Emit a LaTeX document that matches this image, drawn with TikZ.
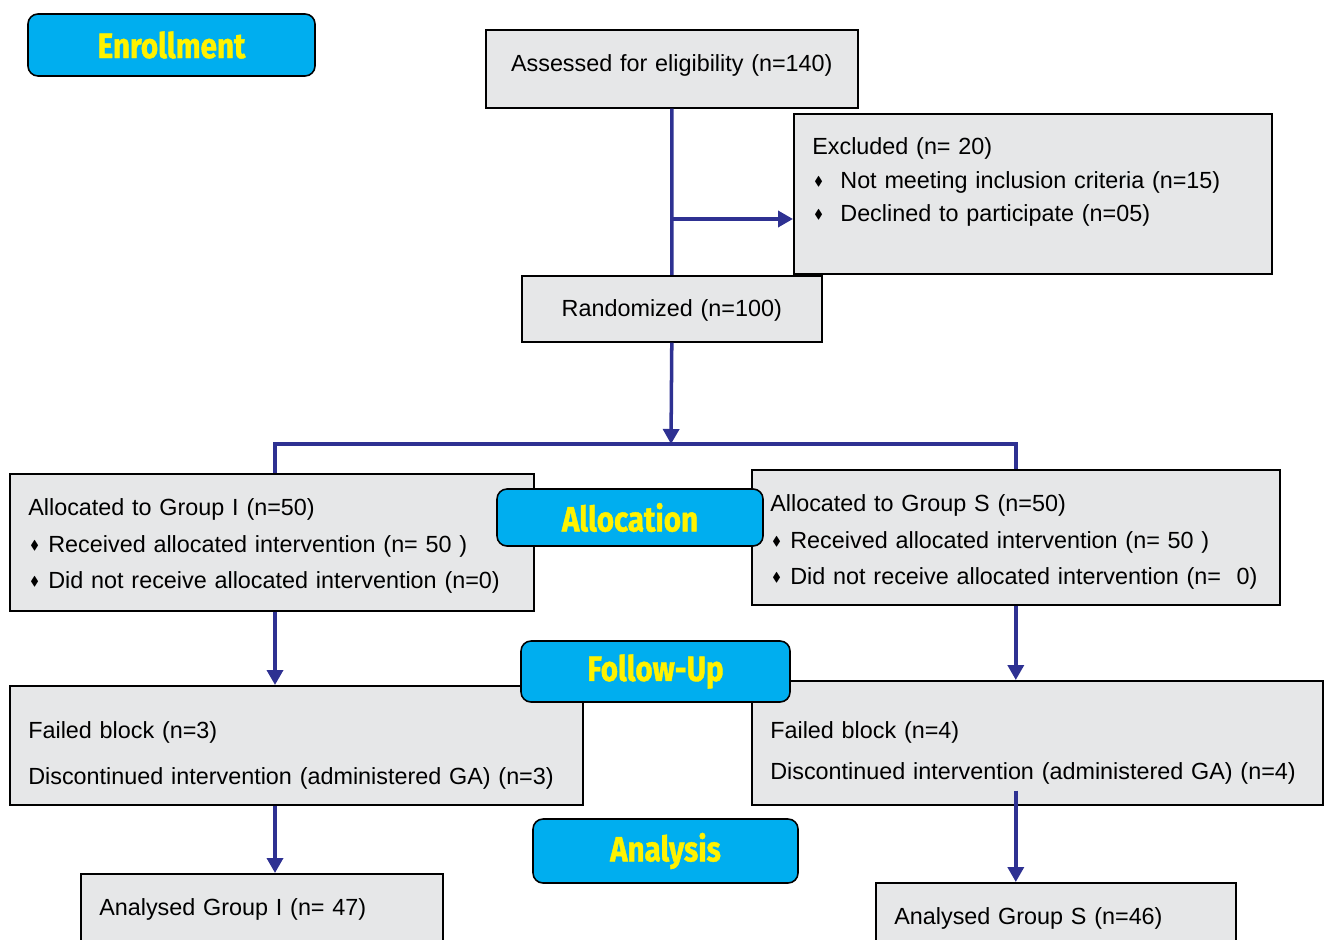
\documentclass[tikz,border=0pt]{standalone}
\usepackage{amsmath,amssymb,graphicx}
\usepackage{fontspec}
\setmainfont{Liberation Sans}
\newfontfamily\phasefont[FakeStretch=0.84,FakeBold=1.2]{Fira Sans}
\usepackage{tikz}
\usetikzlibrary{calc,arrows.meta,positioning}
\definecolor{boxgray}{RGB}{230, 231, 232}
\definecolor{phaseblue}{RGB}{0, 174, 239}
\definecolor{phaseyellow}{RGB}{255, 242, 0}
\definecolor{connblue}{RGB}{46, 49, 146}
\newcommand{\bul}[1][0.19cm]{\hspace*{0.04cm}\raisebox{0.06cm}{\scalebox{0.55}{$\blacklozenge$}}\hspace*{#1}}
\tikzset{>={Triangle[length=0.3cm,width=0.32cm]},
  box/.style={draw=black, line width=0.9pt, fill=boxgray, anchor=north west, inner xsep=0.37cm, inner ysep=0pt, align=left, font=\fontsize{13.3}{19}\selectfont},
  phase/.style={draw=black, line width=0.9pt, fill=phaseblue, rounded corners=0.2cm, text=phaseyellow, inner sep=0pt, font=\phasefont\bfseries\fontsize{20}{24}\selectfont},
  conn/.style={draw=connblue, line width=2pt}}

\begin{document}
\begin{tikzpicture}
\useasboundingbox (0,0) rectangle (26.48,-18.8);
\clip (0,0) rectangle (26.48,-18.8);
% boxes
\node[box, align=center, text width=6.70cm, text height=0.84cm, text depth=0.72cm] (assess) at (9.70,-0.58) {Assessed for eligibility (n=140)};
\node[box, text width=8.82cm, text height=0.82cm, text depth=2.38cm] (excl) at (15.86,-2.26) {Excluded (n= 20)\\ \bul[0.35cm]Not meeting inclusion criteria (n=15)\\ \bul[0.35cm]Declined to participate (n=05)};
\node[box, align=center, text width=5.26cm, text height=0.82cm, text depth=0.50cm] (rand) at (10.42,-5.50) {Randomized (n=100)};
\node[box, text width=9.74cm, text height=0.84cm, text depth=1.90cm] (grpI) at (0.18,-9.46) {Allocated to Group I (n=50)\\[1.8pt] \bul Received allocated intervention (n= 50 )\\[1.8pt] \bul Did not receive allocated intervention (n=0)};
\node[box, text width=9.82cm, text height=0.84cm, text depth=1.86cm] (grpS) at (15.02,-9.38) {Allocated to Group S (n=50)\\[1.8pt] \bul Received allocated intervention (n= 50 )\\[1.8pt] \bul Did not receive allocated intervention (n=\ \ 0)};
\node[box, text width=10.72cm, text height=1.06cm, text depth=1.32cm] (failI) at (0.18,-13.70) {Failed block (n=3)\\[7pt] Discontinued intervention (administered GA) (n=3)};
\node[box, text width=10.68cm, text height=1.16cm, text depth=1.32cm] (failS) at (15.02,-13.60) {Failed block (n=4)\\[4.2pt] Discontinued intervention (administered GA) (n=4)};
\node[box, text width=6.50cm, text height=0.84cm, text depth=0.52cm] (anI) at (1.60,-17.46) {Analysed Group I (n= 47)};
\node[box, text width=6.46cm, text height=0.84cm, text depth=0.52cm] (anS) at (17.50,-17.64) {Analysed Group S (n=46)};
% connectors
\coordinate (split) at (13.42,-4.38);
\coordinate (fork) at (13.42,-8.88);
\coordinate (colI) at (5.50,0);
\draw[conn] (assess.south) -- (rand.north);
\draw[conn,->] (split) -- (split -| excl.west);
\draw[conn,->] (rand.south) -- (fork);
\draw[conn] (grpI.north -| colI) |- (fork) -| (grpS.north);
\draw[conn,->] (grpI.south -| colI) -- (failI.north -| colI);
\draw[conn,->] (failI.south -| colI) -- (anI.north -| colI);
\draw[conn,->] (grpS.south) -- (grpS.south |- failS.north);
\draw[conn,->] ($(grpS.south |- failS.south)+(0,0.3)$) -- (grpS.south |- anS.north);
% phase labels
\node[phase, minimum width=5.74cm, minimum height=1.24cm] (enroll) at (3.43,-0.90) {Enrollment};
\node[phase, minimum width=5.32cm, minimum height=1.14cm] (alloc) at (12.60,-10.35) {Allocation};
\node[phase, minimum width=5.38cm, minimum height=1.22cm] (follow) at (13.11,-13.43) {Follow-Up};
\node[phase, minimum width=5.30cm, minimum height=1.28cm] (analysis) at (13.31,-17.02) {Analysis};
\end{tikzpicture}
\end{document}
